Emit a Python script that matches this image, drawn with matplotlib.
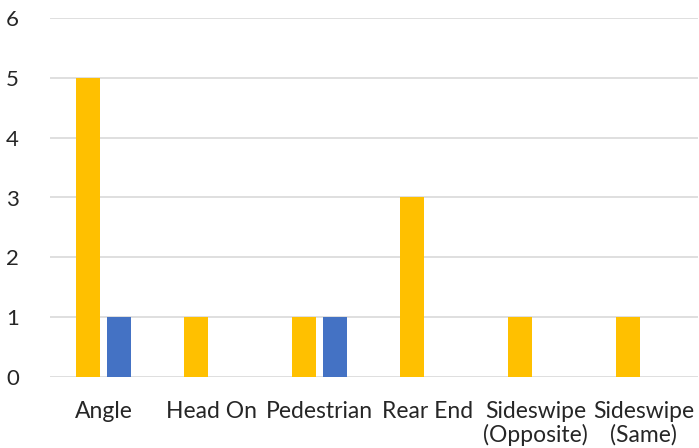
import numpy as np
import matplotlib.pyplot as plt

categories = ["Angle", "Head On", "Pedestrian", "Rear End",
              "Sideswipe\n(Opposite)", "Sideswipe\n(Same)"]
series_a = [5, 1, 1, 3, 1, 1]
series_b = [1, 0, 1, 0, 0, 0]
y_ticks = [0, 1, 2, 3, 4, 5, 6]

plt.rcParams['font.family'] = ['Lato', 'DejaVu Sans']

fig = plt.figure(figsize=(6.99, 4.48), dpi=100)
ax = fig.add_axes([49.5 / 699, 71 / 448, 648 / 699, 359 / 448])

x = np.arange(len(categories))
w = 0.222
off = 0.1435
ax.bar(x - off, series_a, width=w, color="#FFC000", zorder=3)
ax.bar(x + off, [v if v > 0 else np.nan for v in series_b], width=w,
       color="#4472C4", zorder=3)

ax.set_xlim(-0.5, len(categories) - 0.5)
ax.set_ylim(0, 6)
ax.set_yticks(y_ticks)
ax.set_xticks(x)
ax.set_xticklabels(categories, fontsize=16.5, color="#262626",
                   linespacing=1.12, va="top")
ax.tick_params(axis="y", labelsize=16, labelcolor="#262626", pad=22)
ax.tick_params(axis="x", pad=17)
ax.tick_params(length=0)
ax.grid(axis="y", color="#D9D9D9", linewidth=1.2, zorder=0)
for s in ax.spines.values():
    s.set_visible(False)

fig.savefig("out.png", dpi=100)
